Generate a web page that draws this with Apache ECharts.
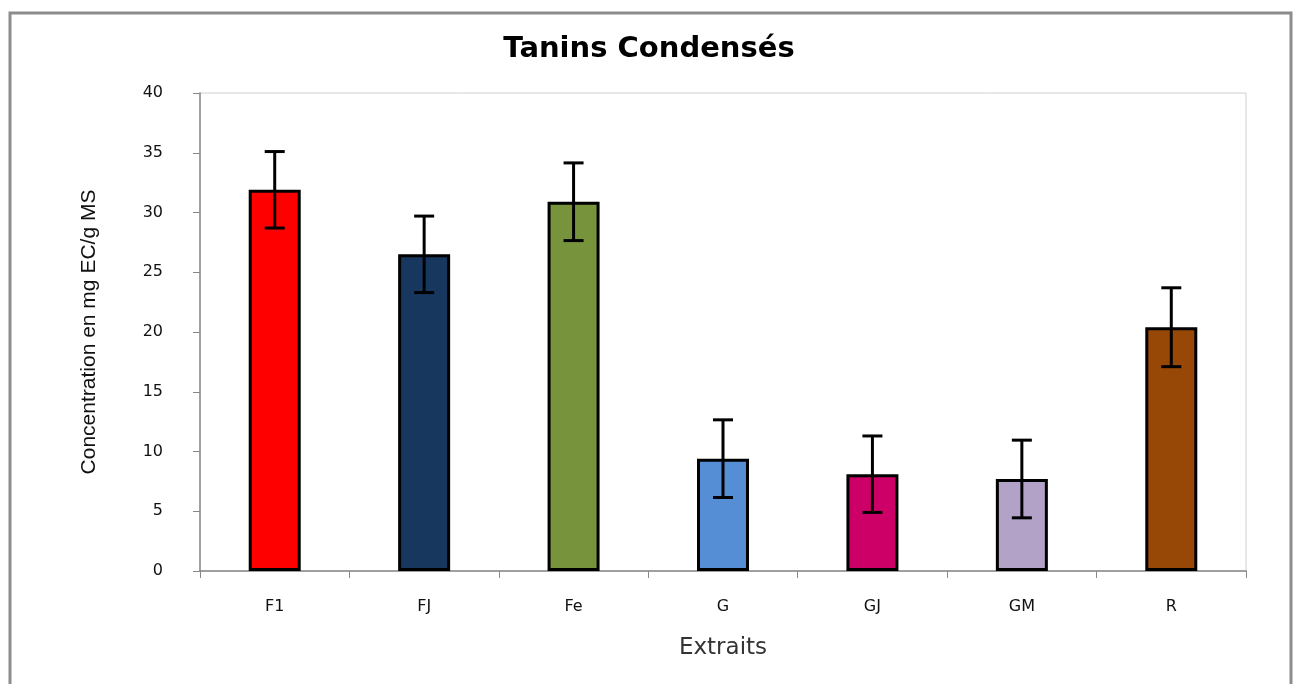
<!DOCTYPE html>
<html>
<head>
<meta charset="utf-8">
<script src="https://cdn.jsdelivr.net/npm/echarts@6/dist/echarts.min.js"></script>
<style>html,body{margin:0;padding:0;background:#fff;}#c{width:1298px;height:684px;}</style>
</head>
<body>
<div id="c"></div>
<script>
var categories = ['F1', 'FJ', 'Fe', 'G', 'GJ', 'GM', 'R'];
var values = [31.9, 26.5, 30.9, 9.4, 8.1, 7.7, 20.4];
var errors = [3.2, 3.2, 3.25, 3.25, 3.2, 3.25, 3.3];
var barColors = ['#FF0000', '#17375E', '#77933C', '#558ED5', '#CC0066', '#B3A2C7', '#974806'];
var yTicks = [0, 5, 10, 15, 20, 25, 30, 35, 40];

var chart = echarts.init(document.getElementById('c'));
var option = {
  backgroundColor: '#fff',
  animation: false,
  title: {
    text: 'Tanins Condensés',
    left: 'center',
    top: 30,
    textStyle: { fontFamily: 'DejaVu Sans', fontWeight: 'bold', fontSize: 29, color: '#000' }
  },
  graphic: [{
    type: 'rect',
    shape: { x: 10, y: 13, width: 1281, height: 700 },
    style: { fill: 'none', stroke: '#8c8c8c', lineWidth: 3 },
    silent: true
  }],
  grid: {
    left: 200, right: 52, top: 93, bottom: 113,
    show: true, borderColor: '#d0d0d0', borderWidth: 1, backgroundColor: 'transparent'
  },
  xAxis: {
    type: 'category',
    data: categories,
    name: 'Extraits',
    nameLocation: 'middle',
    nameGap: 66,
    nameTextStyle: { fontFamily: 'DejaVu Sans', fontSize: 23, color: '#333' },
    axisLine: { lineStyle: { color: '#888', width: 1.5 } },
    axisTick: { show: true, alignWithLabel: false, length: 7, lineStyle: { color: '#888' } },
    axisLabel: { margin: 28, fontFamily: 'DejaVu Sans', fontSize: 16, color: '#111' }
  },
  yAxis: {
    type: 'value',
    min: 0, max: 40, interval: 5,
    name: 'Concentration en mg EC/g MS',
    nameLocation: 'middle',
    nameGap: 100,
    nameTextStyle: { fontFamily: 'Liberation Sans', fontSize: 21, color: '#111' },
    axisLine: { show: true, lineStyle: { color: '#888', width: 1.5 } },
    axisTick: { show: true, length: 7, lineStyle: { color: '#888' } },
    splitLine: { show: false },
    axisLabel: {
      margin: 37, fontFamily: 'DejaVu Sans', fontSize: 16, color: '#111',
      formatter: function (v) { return yTicks.indexOf(v) >= 0 ? String(v) : ''; }
    }
  },
  series: [{
    type: 'bar',
    barWidth: 52,
    data: values.map(function (v, i) {
      return { value: v, itemStyle: { color: barColors[i] } };
    }),
    itemStyle: { borderColor: '#000', borderWidth: 3 },
    z: 2
  }, {
    type: 'custom',
    z: 5,
    data: values.map(function (v, i) { return [i, v - errors[i], v + errors[i]]; }),
    renderItem: function (params, api) {
      var x = api.value(0);
      var lo = api.coord([x, api.value(1)]);
      var hi = api.coord([x, api.value(2)]);
      var hw = 10;
      var st = { stroke: '#000', lineWidth: 3 };
      return {
        type: 'group',
        children: [
          { type: 'line', shape: { x1: hi[0], y1: hi[1], x2: lo[0], y2: lo[1] }, style: st },
          { type: 'line', shape: { x1: hi[0] - hw, y1: hi[1], x2: hi[0] + hw, y2: hi[1] }, style: st },
          { type: 'line', shape: { x1: lo[0] - hw, y1: lo[1], x2: lo[0] + hw, y2: lo[1] }, style: st }
        ]
      };
    }
  }]
};
chart.setOption(option);
</script>
</body>
</html>
